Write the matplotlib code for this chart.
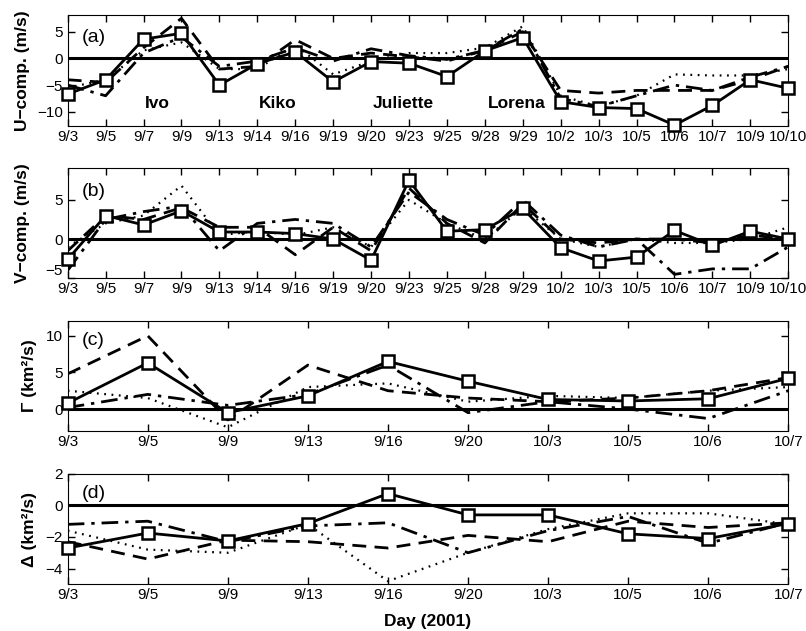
import matplotlib.pyplot as plt
import numpy as np

plt.rcParams['font.family'] = ['Liberation Sans', 'DejaVu Sans']
plt.rcParams['font.size'] = 11

# Day labels
days_uv = ['9/3', '9/5', '9/7', '9/9', '9/13', '9/14', '9/16', '9/19', '9/20', '9/23',
           '9/25', '9/28', '9/29', '10/2', '10/3', '10/5', '10/6', '10/7', '10/9', '10/10']
days_gd = ['9/3', '9/5', '9/9', '9/13', '9/16', '9/20', '10/3', '10/5', '10/6', '10/7']

# (a) U component (m/s)
u_solid = [-6.7, -4.0, 3.6, 4.7, -5.0, -1.0, 1.2, -4.4, -0.6, -0.9,
           -3.4, 1.4, 3.9, -8.1, -9.2, -9.4, -12.5, -8.8, -4.0, -5.6]
u_dash = [-4.0, -4.5, 2.0, 7.5, -2.0, -1.5, 3.5, 0.0, 1.0, 0.3,
          -0.5, 1.5, 5.0, -6.0, -6.5, -6.0, -6.0, -6.0, -4.0, -1.5]
u_dashdot = [-5.0, -7.0, 1.0, 4.0, -1.5, -0.5, 2.0, -0.5, 1.8, 0.5,
             -0.2, 1.5, 5.5, -7.5, -9.0, -7.0, -5.0, -6.0, -3.5, -1.5]
u_dot = [-5.5, -4.0, 1.5, 3.0, -2.0, -2.0, 2.5, -3.0, -0.5, 1.0,
         1.0, 2.0, 6.0, -7.0, -9.0, -7.0, -3.0, -3.2, -3.2, -2.0]

# (b) V component (m/s)
v_solid = [-2.6, 3.0, 1.8, 3.6, 0.9, 0.9, 0.7, 0.0, -2.7, 7.5,
           1.0, 1.2, 3.9, -1.1, -2.8, -2.3, 1.1, -0.8, 1.0, 0.0]
v_dash = [-1.5, 3.0, 2.5, 4.0, 1.5, 1.5, -2.0, 1.5, -1.5, 6.5,
          2.0, -0.5, 4.5, 0.0, -0.5, 0.0, 0.0, -0.5, 0.5, 0.0]
v_dashdot = [-4.0, 2.5, 3.5, 4.2, -1.5, 2.0, 2.5, 2.0, -1.0, 6.0,
             2.5, 0.5, 5.0, 0.5, -1.0, 0.0, -4.5, -3.8, -3.8, -1.0]
v_dot = [-1.0, 2.0, 3.0, 6.8, 0.5, 1.0, 0.5, 1.5, -1.0, 5.0,
         2.0, 0.0, 4.0, 0.0, -1.0, 0.0, -0.5, -0.5, 0.0, 1.5]

# (c) Gamma (km^2/s)
g_solid = [0.8, 6.3, -0.5, 1.8, 6.5, 3.8, 1.3, 1.1, 1.4, 4.2]
g_dash = [4.8, 10.0, -1.5, 6.0, 2.5, 1.5, 1.0, 1.5, 2.5, 4.3]
g_dashdot = [0.2, 2.0, 0.5, 2.0, 6.0, -0.5, 1.0, 0.0, -1.3, 2.5]
g_dot = [2.5, 1.5, -2.5, 3.0, 3.5, 1.0, 1.8, 1.5, 2.5, 3.0]

# (d) Delta (km^2/s)
d_solid = [-2.7, -1.75, -2.25, -1.15, 0.75, -0.6, -0.6, -1.8, -2.1, -1.15]
d_dash = [-2.3, -3.4, -2.2, -2.3, -2.7, -1.9, -2.3, -1.0, -1.4, -1.1]
d_dashdot = [-1.2, -1.0, -2.3, -1.3, -1.1, -3.0, -1.6, -0.7, -2.4, -1.1]
d_dot = [-1.6, -2.8, -3.0, -1.2, -4.8, -3.0, -1.5, -0.5, -0.5, -1.2]

storms = ['Ivo', 'Kiko', 'Juliette', 'Lorena']
storm_x = [3.35, 6.55, 9.85, 12.85]

fig = plt.figure(figsize=(8.06, 6.31), dpi=100)

panels = [
    ([0.084, 0.800, 0.894, 0.176], days_uv, u_solid, u_dash, u_dashdot, u_dot,
     (-12.7, 8.1), [-10, -5, 0, 5], 'U\u2212comp. (m/s)', '(a)', -0.052, 0.80),
    ([0.084, 0.559, 0.894, 0.174], days_uv, v_solid, v_dash, v_dashdot, v_dot,
     (-5, 9), [-5, 0, 5], 'V\u2212comp. (m/s)', '(b)', -0.052, 0.79),
    ([0.084, 0.317, 0.894, 0.174], days_gd, g_solid, g_dash, g_dashdot, g_dot,
     (-3, 12), [0, 5, 10], '\u0393 (km\u00b2/s)', '(c)', -0.042, 0.82),
    ([0.084, 0.074, 0.894, 0.175], days_gd, d_solid, d_dash, d_dashdot, d_dot,
     (-5, 2), [-4, -2, 0, 2], '\u0394 (km\u00b2/s)', '(d)', -0.042, 0.82),
]

for rect, days, s, da, dd, do, ylim, yt, ylab, tag, lx, ty in panels:
    ax = fig.add_axes(rect)
    x = np.arange(1, len(days) + 1)
    ax.axhline(0, color='black', lw=2.2)
    ax.plot(x, da, color='black', ls=(0, (5, 3)), lw=2.0)
    ax.plot(x, dd, color='black', ls=(0, (6, 2.5, 1.2, 2.5)), lw=2.0)
    ax.plot(x, do, color='black', ls=(0, (0.8, 2.5)), lw=1.6)
    ax.plot(x, s, color='black', lw=2.0, marker='s', ms=8, mfc='white',
            mec='black', mew=1.8, clip_on=False, zorder=5)
    ax.set_xlim(1, len(days))
    ax.set_ylim(*ylim)
    ax.set_xticks(x)
    ax.set_xticklabels(days)
    ax.set_yticks(yt)
    ax.tick_params(direction='in', top=True, right=True, length=5, width=1,
                   labelsize=11)
    ax.tick_params(axis='x', pad=3)
    ax.set_ylabel(ylab, fontsize=12.5, fontweight='bold')
    ax.yaxis.set_label_coords(lx, 0.5)
    ax.text(0.02, ty, tag, transform=ax.transAxes, fontsize=14, va='center')
    if tag == '(a)':
        for name, sx in zip(storms, storm_x):
            ax.text(sx, -8.4, name, fontsize=12.5, fontweight='bold',
                    ha='center', va='center')
    if tag == '(b)':
        # lift the bottom tick label so it clears the 9/3 label
        ax.yaxis.get_major_ticks()[0].label1.set_verticalalignment('bottom')
    if tag == '(d)':
        ax.set_xlabel('Day (2001)', fontsize=12.5, fontweight='bold', labelpad=8)

fig.savefig('out.png', dpi=100)
